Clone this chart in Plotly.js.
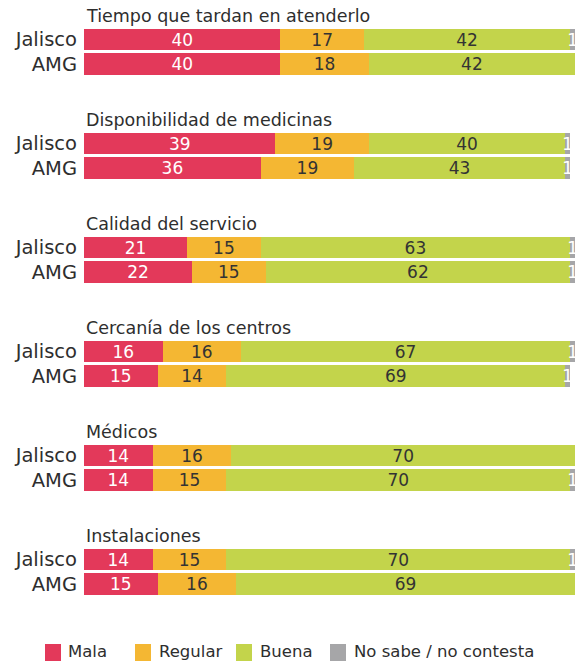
<!DOCTYPE html>
<html><head><meta charset="utf-8">
<script src="https://cdn.plot.ly/plotly-3.0.1.min.js"></script>
<style>html,body{margin:0;padding:0;background:#fff}#chart{width:588px;height:661px}</style>
</head><body><div id="chart"></div>
<script>
// ---- data ----
const categories = ["Tiempo que tardan en atenderlo","Disponibilidad de medicinas","Calidad del servicio","Cercanía de los centros","Médicos","Instalaciones"];
const rowLabels = ["Jalisco","AMG"];
const seriesNames = ["Mala","Regular","Buena","No sabe / no contesta"];
const malaJalisco    = [40,39,21,16,14,14];
const malaAMG        = [40,36,22,15,14,15];
const regularJalisco = [17,19,15,16,16,15];
const regularAMG     = [18,19,15,14,15,16];
const buenaJalisco   = [42,40,63,67,70,70];
const buenaAMG       = [42,43,62,69,70,69];
const nsJalisco      = [1,1,1,1,1,1];
const nsAMG          = [1,1,1,1,1,1];

// ---- style ----
const FONT = "DejaVu Sans, sans-serif";
const colors = ["#E3395A","#F4B733","#C3D44B","#A6A6A8"];
const textColors = ["#ffffff","#333333","#333333","#ffffff"];
const W=588, H=661, L=84, R=W-575, T=10, B=61;
const ROW=24.5, GROUP=104/ROW;
const plotW=W-L-R, plotH=H-T-B;

const yPos=[], yText=[];
categories.forEach((c,g)=>rowLabels.forEach((r,i)=>{yPos.push(g*GROUP+i); yText.push(r);}));
function interleave(a,b){const o=[];a.forEach((v,i)=>o.push(v,b[i]));return o;}
const seriesData = [[malaJalisco,malaAMG],[regularJalisco,regularAMG],[buenaJalisco,buenaAMG],[nsJalisco,nsAMG]];

const traces = seriesNames.map((n,k)=>({
  type:'bar', orientation:'h', name:n,
  x: interleave(seriesData[k][0], seriesData[k][1]),
  y: yPos, width:0.88,
  marker:{color:colors[k], line:{width:0}},
  texttemplate:'%{x}', textposition:'inside', insidetextanchor:'middle', textangle:0,
  constraintext:'none', cliponaxis:false,
  textfont:{color:textColors[k], size:17, family:FONT},
  hoverinfo:'none', showlegend:false
}));

const yTop = -(39.5-T)/ROW;
const yBot = yTop + plotH/ROW;

const annotations = categories.map((c,g)=>({
  text:c, x:0, xref:'x', y:g*GROUP-0.95, yref:'y',
  xanchor:'left', yanchor:'middle', showarrow:false,
  font:{size:17.5, color:'#2e2e2e', family:FONT}
}));

const px = v => (v-L)/plotW;
const py = v => (H-B-v)/plotH;
const legendSquareX = [45,135,236,330];
const legendTextX = [66,157,258,352];
const shapes = [];
seriesNames.forEach((n,k)=>{
  shapes.push({type:'rect', xref:'paper', yref:'paper',
    x0:px(legendSquareX[k]), x1:px(legendSquareX[k]+16),
    y0:py(661), y1:py(644), fillcolor:colors[k], line:{width:0}});
  annotations.push({text:n, xref:'paper', yref:'paper', x:px(legendTextX[k]), y:py(651),
    xanchor:'left', yanchor:'middle', showarrow:false,
    font:{size:16.5, color:'#2e2e2e', family:FONT}});
});

const layout = {
  width:W, height:H, margin:{l:L, r:R, t:T, b:B},
  paper_bgcolor:'#ffffff', plot_bgcolor:'#ffffff',
  barmode:'stack', showlegend:false,
  xaxis:{range:[0,100], visible:false, fixedrange:true},
  yaxis:{range:[yBot,yTop], tickvals:yPos, ticktext:yText, showgrid:false, zeroline:false,
    showline:false, ticks:'', ticklabelstandoff:6,
    tickfont:{size:19.5, color:'#2e2e2e', family:FONT}},
  annotations, shapes
};
Plotly.newPlot('chart', traces, layout, {staticPlot:true, displayModeBar:false});
</script></body></html>
